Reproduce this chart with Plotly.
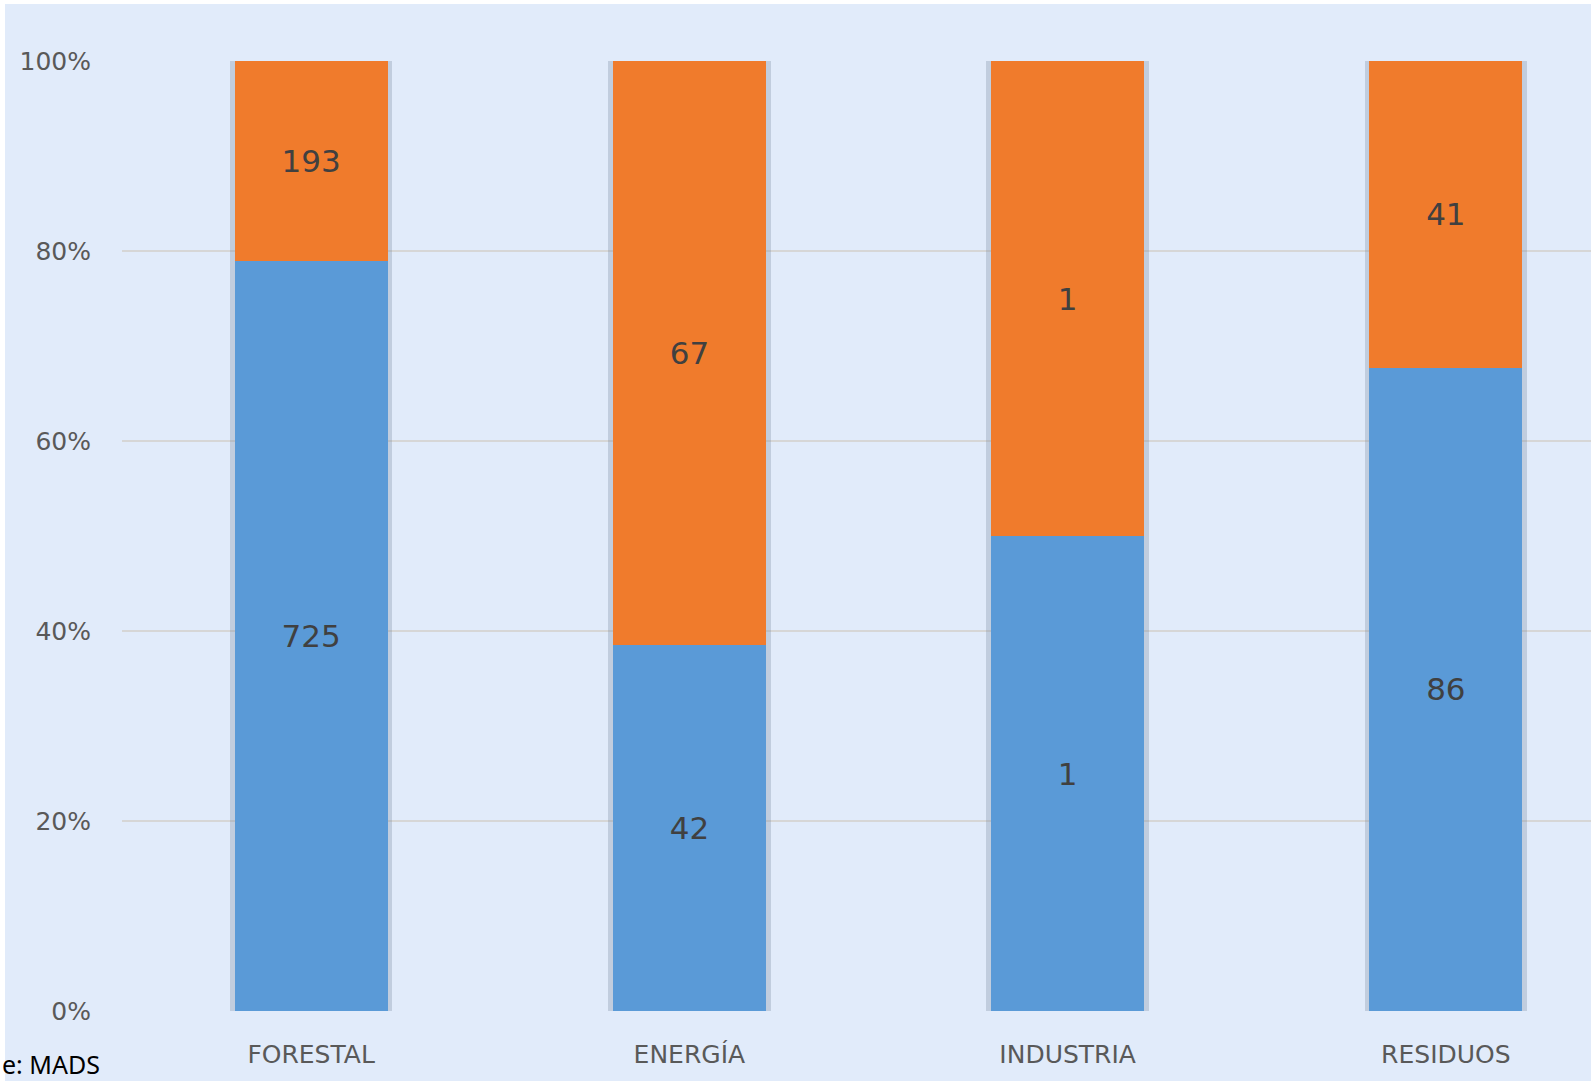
import plotly.graph_objects as go

categories = ["FORESTAL", "ENERGÍA", "INDUSTRIA", "RESIDUOS"]
blue_values = [725, 42, 1, 86]
orange_values = [193, 67, 1, 41]
totals = [b + o for b, o in zip(blue_values, orange_values)]
y_ticks = [0, 20, 40, 60, 80, 100]
y_tick_labels = ["0%", "20%", "40%", "60%", "80%", "100%"]

W, H = 1591, 1081
L, R, T, B = 122, 0, 61, 70
plot_w = W - L - R
plot_h = H - T - B

BG = "#E1EBFA"
BLUE = "#5A9AD7"
ORANGE = "#F07B2C"
TXT = "#404040"
AX = "#595959"
FONT = "DejaVu Sans"

def px_x(p):
    return (p - L) / plot_w

def px_y(p):
    return (H - B - p) / plot_h

fig = go.Figure()

# soft shadow behind bars
fig.add_trace(go.Bar(
    x=categories, y=totals, width=0.43,
    marker=dict(color="rgba(120,135,160,0.30)", line=dict(width=0)),
    hoverinfo="skip", showlegend=False, xaxis="x", yaxis="y",
))

fig.add_trace(go.Bar(
    x=categories, y=blue_values, width=0.405, name="blue",
    marker=dict(color=BLUE, line=dict(width=0)),
    text=[str(v) for v in blue_values], textposition="inside",
    insidetextanchor="middle", textangle=0,
    textfont=dict(family=FONT, size=31, color=TXT),
    showlegend=False, xaxis="x2", yaxis="y",
))
fig.add_trace(go.Bar(
    x=categories, y=orange_values, width=0.405, name="orange",
    marker=dict(color=ORANGE, line=dict(width=0)),
    text=[str(v) for v in orange_values], textposition="inside",
    insidetextanchor="middle", textangle=0,
    textfont=dict(family=FONT, size=31, color=TXT),
    showlegend=False, xaxis="x2", yaxis="y",
))

xrange = [-0.5, 3.5 - (1635 - W) / 378.3]

fig.update_layout(
    width=W, height=H,
    margin=dict(l=L, r=R, t=T, b=B, pad=0),
    paper_bgcolor=BG, plot_bgcolor=BG,
    barmode="stack", barnorm="percent",
    font=dict(family=FONT, color=AX),
    xaxis=dict(
        range=xrange, showgrid=False, zeroline=False, showline=False,
        ticks="", showticklabels=True,
        tickfont=dict(family=FONT, size=25, color=AX),
        ticklabelstandoff=26,
    ),
    xaxis2=dict(
        range=xrange, overlaying="x", matches="x", showgrid=False, zeroline=False,
        showline=False, ticks="", showticklabels=False,
    ),
    yaxis=dict(
        range=[0, 100], tickvals=y_ticks, ticktext=y_tick_labels,
        showgrid=True, gridcolor="#D6D6D6", gridwidth=2,
        zeroline=False, showline=False, ticks="",
        tickfont=dict(family=FONT, size=25, color=AX),
        ticklabelstandoff=30,
    ),
    shapes=[
        dict(type="rect", xref="paper", yref="paper",
             x0=px_x(0), x1=px_x(W), y0=px_y(0), y1=px_y(4),
             fillcolor="white", line=dict(width=0), layer="below"),
        dict(type="rect", xref="paper", yref="paper",
             x0=px_x(0), x1=px_x(5), y0=px_y(0), y1=px_y(H),
             fillcolor="white", line=dict(width=0), layer="below"),
    ],
    annotations=[
        dict(text="e: MADS", xref="paper", yref="paper",
             x=px_x(0), y=px_y(1083), xanchor="left", yanchor="bottom",
             showarrow=False, font=dict(family="Noto Sans", size=25, color="#000000")),
    ],
)

fig.write_html("out.html", config={"displayModeBar": False},
               post_script="document.body.style.margin='0';")
